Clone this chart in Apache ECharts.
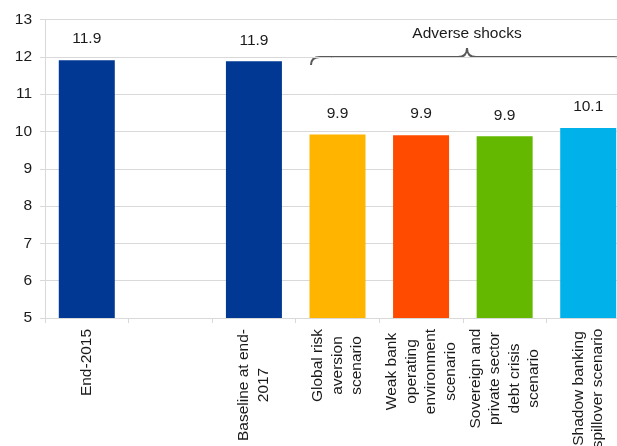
<!DOCTYPE html>
<html>
<head>
<meta charset="utf-8">
<style>
  html, body { margin: 0; padding: 0; background: #fff; }
  #chart { width: 617px; height: 446px; }
</style>
<script src="https://cdn.jsdelivr.net/npm/echarts@6/dist/echarts.min.js"></script>
</head>
<body>
<div id="chart"></div>
<script>
// data
var categories = [
  "End-2015",
  "",
  "Baseline at end-\n2017",
  "Global risk\naversion\nscenario",
  "Weak bank\noperating\nenvironment\nscenario",
  "Sovereign and\nprivate sector\ndebt crisis\nscenario",
  "Shadow banking\nspillover scenario"
];
var values = [11.91, null, 11.88, 9.92, 9.9, 9.87, 10.09];
var barColors = ["#003894", "#003894", "#003894", "#FFB400", "#FF4B00", "#65B800", "#00B1EA"];
var yTicks = { min: 5, max: 13, step: 1 };
var groupTitle = "Adverse shocks";

var FONT = "Liberation Sans";
var FS = 15.5;

// per-label widths so every line of a label is centred in its block
var ctx = document.createElement("canvas").getContext("2d");
ctx.font = FS + "px '" + FONT + "'";
var rich = {};
categories.forEach(function(c, i) {
  var w = 0;
  c.split("\n").forEach(function(s) {
    w = Math.max(w, ctx.measureText(s).width);
  });
  rich["l" + i] = {
    width: Math.ceil(w) + 1,
    align: "center",
    fontSize: FS,
    lineHeight: 19.5,
    fontFamily: FONT,
    color: "#1a1a1a"
  };
});

// curly brace over the adverse-shock bars
var braceStyle = { stroke: "#595959", lineWidth: 2, fill: null };
var brace = [
  { type: "bezierCurve", shape: { x1: 311, y1: 65, cpx1: 311, cpy1: 57, x2: 320, y2: 57 } },
  { type: "line", shape: { x1: 320, y1: 57, x2: 458, y2: 57 } },
  { type: "bezierCurve", shape: { x1: 458, y1: 57, cpx1: 467, cpy1: 57, x2: 467, y2: 48 } },
  { type: "bezierCurve", shape: { x1: 467, y1: 48, cpx1: 467, cpy1: 57, x2: 476, y2: 57 } },
  { type: "line", shape: { x1: 476, y1: 57, x2: 614, y2: 57 } },
  { type: "bezierCurve", shape: { x1: 614, y1: 57, cpx1: 623, cpy1: 57, x2: 623, y2: 65 } }
].map(function(g) {
  g.style = braceStyle;
  return g;
});

var chart = echarts.init(document.getElementById("chart"));

chart.setOption({
  animation: false,
  textStyle: { fontFamily: FONT },
  grid: { left: 45, right: -13, top: 19.5, bottom: 128, outerBoundsMode: "none", containLabel: false },
  xAxis: {
    type: "category",
    data: categories,
    axisLine: { lineStyle: { color: "#d9d9d9", width: 1 } },
    axisTick: { show: true, length: 5, lineStyle: { color: "#d9d9d9" } },
    axisLabel: {
      interval: 0,
      rotate: 90,
      margin: 10,
      rich: rich,
      formatter: function(val, idx) {
        if (!val) return "";
        return val.split("\n").map(function(s) {
          return "{l" + idx + "|" + s + "}";
        }).join("\n");
      }
    }
  },
  yAxis: {
    type: "value",
    min: yTicks.min,
    max: yTicks.max,
    interval: yTicks.step,
    axisLine: { show: true, lineStyle: { color: "#d9d9d9" } },
    axisTick: { show: true, length: 5, lineStyle: { color: "#d9d9d9" } },
    splitLine: { lineStyle: { color: "#d9d9d9", width: 1 } },
    axisLabel: { fontSize: FS, color: "#1a1a1a", margin: 13 }
  },
  series: [{
    type: "bar",
    barWidth: 56,
    data: values.map(function(v, i) {
      return { value: v, itemStyle: { color: barColors[i] } };
    }),
    label: {
      show: true,
      position: "top",
      distance: 13,
      fontSize: FS,
      color: "#1a1a1a",
      formatter: function(p) {
        return p.value == null ? "" : p.value.toFixed(1);
      }
    }
  }],
  graphic: brace.concat([
    {
      type: "text",
      x: 467,
      y: 34,
      style: {
        text: groupTitle,
        fontSize: FS,
        fontFamily: FONT,
        fill: "#1a1a1a",
        textAlign: "center",
        textVerticalAlign: "middle"
      }
    }
  ])
});
</script>
</body>
</html>
